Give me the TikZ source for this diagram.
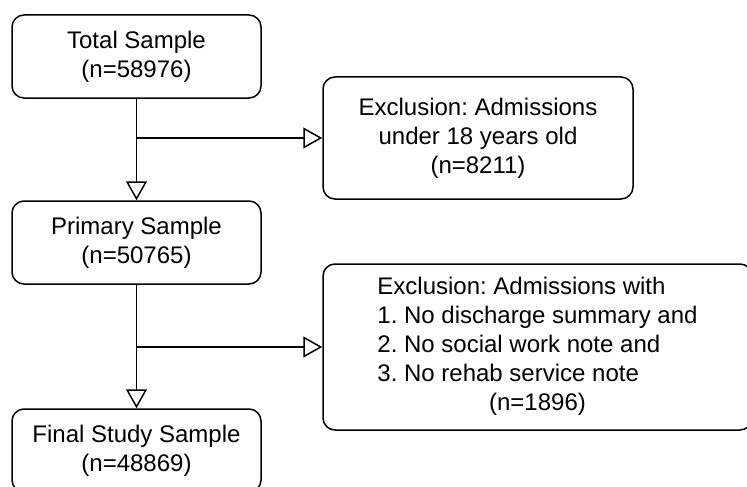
\documentclass[tikz,border=0pt]{standalone}
\usepackage{fontspec}
\setmainfont{Liberation Sans}
\frenchspacing
\usetikzlibrary{arrows.meta,positioning}

\begin{document}
\begin{tikzpicture}[x=1pt,y=-1pt,
	box/.style={draw,line width=1.5pt,rounded corners=12pt,align=center,inner sep=0pt,font=\fontsize{24}{29}\selectfont},
	flow/.style={line width=1.5pt,-{Triangle[open,length=19pt,width=21pt]}}]
					\clip (0,0) rectangle (747,487);

					\node[box,minimum width=249pt,minimum height=83pt] (total) at (136.5,56.5) {Total Sample\\(n=58976)};
					\node[box,minimum width=249pt,minimum height=83pt] (primary) at (136.5,242.5) {Primary Sample\\(n=50765)};
					\node[box,minimum width=249pt,minimum height=83pt] (final) at (136.5,450.5) {Final Study Sample\\(n=48869)};

					\node[box,minimum width=310pt,minimum height=122pt] (excla) at (478,138) {Exclusion: Admissions\\under 18 years old\\(n=8211)};
					\node[box,minimum width=429pt,minimum height=166pt] (exclb) at (537.5,347) {\renewcommand\arraystretch{1}\begin{tabular}{@{}l@{}}
						Exclusion: Admissions with\\
						1. No discharge summary and\\
						2. No social work note and\\
						3. No rehab service note\\
						\multicolumn{1}{@{}c@{}}{(n=1896)}
					\end{tabular}};

					\coordinate (splita) at (total.south |- excla.west);
					\coordinate (splitb) at (primary.south |- exclb.west);

					\draw[flow] (total.south) -- (primary.north);
					\draw[flow] (splita) -- (excla.west);

					\draw[flow] (primary.south) -- (final.north);
					\draw[flow] (splitb) -- (exclb.west);
				\end{tikzpicture}
\end{document}
